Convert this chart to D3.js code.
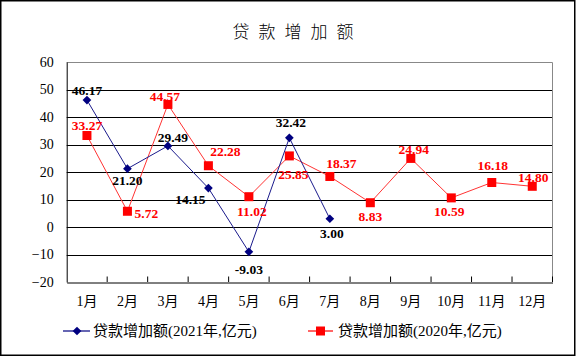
<!DOCTYPE html>
<html><head><meta charset="utf-8">
<script src="https://cdn.jsdelivr.net/npm/d3@7/dist/d3.min.js"></script>
<style>
body{margin:0;background:#fff;}
svg{display:block;}
text{font-family:"Liberation Serif","Noto Sans CJK SC",serif;}
</style></head>
<body><svg id="c" width="576" height="357"></svg>
<script>
const title = "贷款增加额";
const months = ["1月","2月","3月","4月","5月","6月","7月","8月","9月","10月","11月","12月"];
const yTicks = [60,50,40,30,20,10,0,-10,-20];
const series2021Name = "贷款增加额(2021年,亿元)";
const series2020Name = "贷款增加额(2020年,亿元)";
const values2021 = [46.17,21.20,29.49,14.15,-9.03,32.42,3.00];
const values2020 = [33.27,5.72,44.57,22.28,11.02,25.85,18.37,8.83,24.94,10.59,16.18,14.80];
// label placement offsets (layout only)
const off2021 = [[0,-10],[0,12],[5,-8.5],[-18,11.5],[0,17],[1.5,-16],[2,15]];
const off2020 = [[0,-10],[19,2],[-3,-8],[17,-14],[3,15],[4,18.5],[11.5,-13],[0,14],[3,-9],[-2,13.5],[1,-17],[1,-9]];

const svg = d3.select("#c");
const L=66.7, R=552.5, T=62, B=282;
const x = d3.scaleBand().domain(months).range([L,R]).padding(0);
const y = d3.scaleLinear().domain([-20,60]).range([B,T]);
const cx = m => x(m)+x.bandwidth()/2;

// outer border
svg.append("rect").attr("x",0.75).attr("y",0.75).attr("width",574).attr("height",354.5)
  .attr("fill","#fff").attr("stroke","#000").attr("stroke-width",1.5);

// title
svg.append("text").attr("x",293+4.5).attr("y",38).attr("text-anchor","middle")
  .style("font-family","'Noto Sans CJK SC'").style("font-size","17px").style("font-weight","300")
  .style("letter-spacing","9px").text(title);

// gridlines
svg.append("g").selectAll("line").data(yTicks.filter(d=>d>-20&&d<60)).join("line")
  .attr("x1",L).attr("x2",R).attr("y1",d=>Math.round(y(d))+0.5).attr("y2",d=>Math.round(y(d))+0.5)
  .attr("stroke","#000").attr("stroke-width",1);
// top & right gray border
svg.append("path").attr("d",`M${L},${Math.round(T)+0.5}H${R}V${B}`).attr("fill","none").attr("stroke","#888").attr("stroke-width",1);

// y axis
const ya = d3.axisLeft(y).tickValues(yTicks).tickSize(0).tickPadding(13);
const yg = svg.append("g").attr("transform",`translate(${L},0)`).call(ya);
yg.select(".domain").attr("stroke","#000");
yg.selectAll("text").style("font-size","14px").attr("fill","#000");

// x axis
const xa = d3.axisBottom(x).tickSize(0).tickPadding(14);
const xg = svg.append("g").attr("transform",`translate(0,${B+0.5})`).call(xa);
xg.select(".domain").attr("stroke","#000");
xg.selectAll("text").style("font-size","14px").attr("fill","#000");
// inward tick marks at band boundaries
svg.append("g").selectAll("line").data(months.slice(1).concat(["__end"])).join("line")
  .attr("x1",d=>d==="__end"?R:x(d)).attr("x2",d=>d==="__end"?R:x(d))
  .attr("y1",B-5.5).attr("y2",B).attr("stroke","#000").attr("stroke-width",1);

const line = d3.line().x((d,i)=>cx(months[i])).y(d=>y(d));

// 2020 series
svg.append("path").datum(values2020).attr("d",line).attr("fill","none").attr("stroke","#ff3333").attr("stroke-width",1);
svg.append("g").selectAll("rect").data(values2020).join("rect")
  .attr("x",(d,i)=>cx(months[i])-4.5).attr("y",d=>y(d)-4.5).attr("width",9).attr("height",9).attr("fill","#ff0000");

// 2021 series
svg.append("path").datum(values2021).attr("d",line).attr("fill","none").attr("stroke","#1a1a8c").attr("stroke-width",1);
const diamond = d3.symbol().type(d3.symbolSquare).size(38);
svg.append("g").selectAll("path").data(values2021).join("path")
  .attr("d",diamond).attr("transform",(d,i)=>`translate(${cx(months[i])},${y(d)}) rotate(45)`).attr("fill","#000080");

// labels
svg.append("g").selectAll("text").data(values2020).join("text")
  .attr("x",(d,i)=>cx(months[i])+off2020[i][0]).attr("y",(d,i)=>y(d)+off2020[i][1]).attr("dy","0.35em")
  .attr("text-anchor","middle").style("font-size","13.5px").style("font-weight","bold").attr("fill","#ff0000")
  .text(d=>d.toFixed(2));
svg.append("g").selectAll("text").data(values2021).join("text")
  .attr("x",(d,i)=>cx(months[i])+off2021[i][0]).attr("y",(d,i)=>y(d)+off2021[i][1]).attr("dy","0.35em")
  .attr("text-anchor","middle").style("font-size","13.5px").style("font-weight","bold").attr("fill","#000")
  .text(d=>d.toFixed(2));

// legend
const lg = svg.append("g");
lg.append("line").attr("x1",63).attr("x2",90).attr("y1",331).attr("y2",331).attr("stroke","#000080").attr("stroke-width",1.2);
lg.append("path").attr("d",diamond).attr("transform","translate(77,331) rotate(45)").attr("fill","#000080");
lg.append("text").attr("x",93).attr("y",331).attr("dy","0.36em").style("font-size","15px").attr("fill","#000").text(series2021Name);
lg.append("line").attr("x1",308).attr("x2",333).attr("y1",331).attr("y2",331).attr("stroke","#ff0000").attr("stroke-width",1.2);
lg.append("rect").attr("x",316).attr("y",326.5).attr("width",9).attr("height",9).attr("fill","#ff0000");
lg.append("text").attr("x",338).attr("y",331).attr("dy","0.36em").style("font-size","15px").attr("fill","#000").text(series2020Name);
</script></body></html>
